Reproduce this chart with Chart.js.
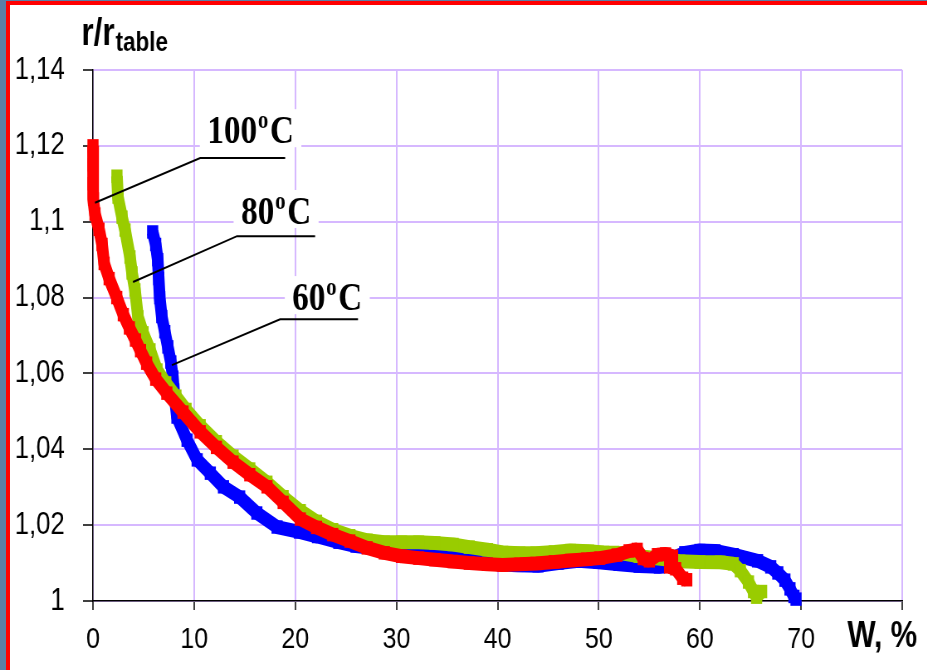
<!DOCTYPE html>
<html>
<head>
<meta charset="utf-8">
<script src="https://cdn.jsdelivr.net/npm/chart.js@4.4.1/dist/chart.umd.min.js"></script>
<style>
  html, body { margin: 0; padding: 0; width: 927px; height: 670px; overflow: hidden; background: #5b7ea6; }
  #frame { position: absolute; left: 6px; top: 1px; width: 940px; height: 700px;
           border-left: 4px solid #ff0000; border-top: 4px solid #ff0000; background: #fff; }
  /* chart is laid out wide and squeezed horizontally */
  #wrap { position: absolute; left: 0; top: 0; width: 1117px; height: 670px;
          transform: scaleX(0.83); transform-origin: 0 0; }
</style>
</head>
<body>
<div id="frame"></div>
<div id="wrap"><canvas id="rChart" width="1117" height="670"></canvas></div>
<script>
// W, % and r/r_table for each temperature
const w100 = [0, 0, 0, 0.05, 0.2, 0.6, 0.9, 1.1, 1.6, 2.35, 3.0, 3.6, 4.2, 4.7, 5.3, 6.2, 7.3, 8.9, 10.6, 12.2, 13.85, 15.5, 17.2, 18.8, 20.5, 22.1, 23.7, 25.4, 27.1, 28.8, 30.5, 32.2, 33.8, 35.6, 37.2, 39.0, 40.5, 42.2, 43.8, 45.6, 47.2, 48.8, 50.1, 51.8, 53.0, 53.8, 54.4, 55.0, 55.8, 56.6, 57.3, 57.0, 57.6, 58.3, 58.7];
const r100 = [1.120, 1.115, 1.110, 1.106, 1.102, 1.098, 1.094, 1.089, 1.085, 1.080, 1.0755, 1.072, 1.0688, 1.066, 1.0627, 1.0585, 1.0548, 1.0498, 1.0446, 1.0405, 1.0366, 1.0333, 1.0301, 1.026, 1.0216, 1.0194, 1.0175, 1.0158, 1.0140, 1.0127, 1.0118, 1.0113, 1.0109, 1.0104, 1.0100, 1.0097, 1.0095, 1.0097, 1.0099, 1.0103, 1.0107, 1.0110, 1.0113, 1.0121, 1.0132, 1.0136, 1.0112, 1.0106, 1.0122, 1.0124, 1.0118, 1.0090, 1.0085, 1.0060, 1.0056];

const w80 = [2.37, 2.47, 2.87, 3.17, 3.66, 3.86, 4.15, 4.45, 4.95, 5.64, 6.33, 7.2, 8.2, 9.2, 10.6, 12.2, 13.85, 15.5, 17.2, 18.8, 20.5, 22.1, 23.7, 25.4, 27.1, 28.8, 30.5, 32.2, 33.8, 35.6, 37.2, 39.0, 40.5, 42.2, 43.8, 45.6, 47.2, 49.0, 50.5, 52.0, 54.0, 56.0, 58.0, 60.0, 62.0, 63.3, 64.0, 64.8, 65.3, 65.6, 66.1];
const r80 = [1.112, 1.1065, 1.1012, 1.0978, 1.0907, 1.0865, 1.082, 1.0749, 1.0707, 1.0662, 1.0609, 1.0575, 1.0540, 1.0505, 1.0462, 1.0420, 1.0382, 1.0348, 1.0313, 1.0275, 1.0238, 1.0210, 1.0188, 1.0172, 1.0160, 1.0155, 1.0155, 1.0155, 1.0153, 1.0149, 1.0142, 1.0135, 1.0128, 1.0126, 1.0126, 1.0129, 1.0133, 1.0131, 1.0128, 1.0127, 1.0118, 1.0112, 1.0105, 1.0103, 1.0102, 1.0098, 1.0080, 1.0050, 1.0025, 1.0010, 1.0025];

const w60 = [5.9, 6.2, 6.4, 6.5, 6.6, 6.8, 7.1, 7.4, 7.7, 7.9, 8.0, 8.3, 9.3, 10.3, 11.6, 12.9, 14.5, 16.2, 18.2, 20.4, 22.2, 24.3, 26.0, 28.0, 30.0, 32.0, 34.0, 35.5, 37.0, 38.5, 40.0, 42.0, 44.0, 46.0, 48.0, 50.0, 52.0, 54.0, 56.0, 57.0, 57.5, 58.5, 60.0, 61.5, 63.3, 65.7, 67.0, 67.7, 68.4, 68.9, 69.3, 69.5];
const r60 = [1.0973, 1.094, 1.090, 1.085, 1.080, 1.075, 1.071, 1.067, 1.063, 1.059, 1.0556, 1.0485, 1.0424, 1.0372, 1.0337, 1.0301, 1.0274, 1.0232, 1.0195, 1.0182, 1.0170, 1.0155, 1.0145, 1.0138, 1.0134, 1.0131, 1.0129, 1.0125, 1.0115, 1.0103, 1.0097, 1.0094, 1.0093, 1.0100, 1.0106, 1.0102, 1.0097, 1.0092, 1.0090, 1.0100, 1.0115, 1.0127, 1.0133, 1.0132, 1.0122, 1.0106, 1.0090, 1.0074, 1.0055, 1.0032, 1.0012, 1.0005];

// first dataset is painted on top
const series = [
  { label: '100', w: w100, r: r100, color: '#ff0000' },
  { label: '80', w: w80, r: r80, color: '#99cc00' },
  { label: '60', w: w60, r: r60, color: '#0000ff' }
];

// callouts: curve point, elbow, end of leader, text corner (data units)
const callouts = [
  { text: '100', from: [0.2, 1.105], elbow: [10.6, 1.1168], to: [19.0, 1.1168], at: [11.3, 1.1207] },
  { text: '80', from: [3.96, 1.0841], elbow: [14.24, 1.0962], to: [21.96, 1.0962], at: [14.64, 1.0994] },
  { text: '60', from: [7.8, 1.0622], elbow: [18.5, 1.0743], to: [26.2, 1.0743], at: [19.7, 1.0767] }
];

const SERIF = '"Liberation Serif", "Times New Roman", serif';
const SANS = '"Liberation Sans", Arial, sans-serif';

function tempWidth(ctx, t) {
  ctx.font = 'bold 40px ' + SERIF;
  let w = ctx.measureText(t).width + ctx.measureText('C').width;
  ctx.font = 'bold 25px ' + SERIF;
  return w + ctx.measureText('o').width + 3;
}

function drawTemp(ctx, t, x, y) {
  ctx.fillStyle = '#000';
  ctx.textBaseline = 'alphabetic';
  ctx.textAlign = 'left';
  ctx.font = 'bold 40px ' + SERIF;
  ctx.fillText(t, x, y);
  let w = ctx.measureText(t).width + 1;
  ctx.font = 'bold 25px ' + SERIF;
  ctx.fillText('o', x + w, y - 15);
  w += ctx.measureText('o').width + 2;
  ctx.font = 'bold 40px ' + SERIF;
  ctx.fillText('C', x + w, y);
}

const calloutPlugin = {
  id: 'callouts',
  beforeDatasetsDraw(chart) {
    const { ctx, scales: { x, y } } = chart;
    ctx.save();
    ctx.fillStyle = '#fff';
    callouts.forEach(c => {
      const px = x.getPixelForValue(c.at[0]);
      const py = y.getPixelForValue(c.at[1]);
      const w = tempWidth(ctx, c.text);
      ctx.fillRect(px - 9, py - 34, w + 18, 38);
    });
    ctx.restore();
  },
  afterDatasetsDraw(chart) {
    const { ctx, scales: { x, y } } = chart;
    ctx.save();
    ctx.strokeStyle = '#000';
    ctx.lineWidth = 2;
    callouts.forEach(c => {
      ctx.beginPath();
      ctx.moveTo(x.getPixelForValue(c.from[0]), y.getPixelForValue(c.from[1]));
      ctx.lineTo(x.getPixelForValue(c.elbow[0]), y.getPixelForValue(c.elbow[1]));
      ctx.lineTo(x.getPixelForValue(c.to[0]), y.getPixelForValue(c.to[1]));
      ctx.stroke();
      drawTemp(ctx, c.text, x.getPixelForValue(c.at[0]), y.getPixelForValue(c.at[1]));
    });
    ctx.restore();
  },
  afterDraw(chart) {
    const { ctx, chartArea } = chart;
    ctx.save();
    ctx.fillStyle = '#000';
    ctx.textAlign = 'left';
    ctx.textBaseline = 'alphabetic';
    // axis titles
    ctx.font = 'bold 38px ' + SANS;
    ctx.fillText('r/r', chartArea.left - 14, chartArea.top - 25);
    const rw = ctx.measureText('r/r').width;
    ctx.font = 'bold 27px ' + SANS;
    ctx.fillText('table', chartArea.left - 13 + rw, chartArea.top - 19);
    ctx.font = 'bold 36px ' + SANS;
    ctx.fillText('W, %', chartArea.right - 66, chartArea.bottom + 46);
    ctx.restore();
  }
};

const gridColor = '#d6b8ff';

new Chart(document.getElementById('rChart'), {
  type: 'scatter',
  data: {
    datasets: series.map(s => ({
      label: s.label,
      data: s.w.map((v, i) => ({ x: v, y: s.r[i] })),
      showLine: true,
      borderColor: s.color,
      backgroundColor: s.color,
      borderWidth: 14,
      borderJoinStyle: 'bevel',
      pointStyle: 'rect',
      pointRadius: 9.5,
      pointBorderWidth: 0,
      pointHoverRadius: 9.5,
      tension: 0,
      clip: false
    }))
  },
  options: {
    responsive: false,
    devicePixelRatio: 1,
    animation: false,
    layout: { padding: { left: 0, right: 30, top: 70, bottom: 0 } },
    plugins: { legend: { display: false }, tooltip: { enabled: false } },
    scales: {
      x: {
        type: 'linear', min: 0, max: 80,
        afterFit: scale => { scale.height = 69; },
        ticks: {
          stepSize: 10, padding: 12, color: '#000', maxRotation: 0,
          font: { family: SANS, size: 30 },
          callback: v => (v === 80 ? '' : v)
        },
        grid: { color: gridColor, lineWidth: 2, tickLength: 9, tickColor: '#000', tickWidth: 1.5 },
        border: { color: '#000', width: 1.5 }
      },
      y: {
        type: 'linear', min: 1, max: 1.14,
        afterFit: scale => { scale.width = 112; },
        ticks: {
          stepSize: 0.02, padding: 22, color: '#000',
          font: { family: SANS, size: 31 },
          callback: v => String(Math.round(v * 100) / 100).replace('.', ',')
        },
        grid: { color: gridColor, lineWidth: 2, tickLength: 12, tickColor: '#000', tickWidth: 1.5 },
        border: { color: '#000', width: 1.5 }
      }
    }
  },
  plugins: [calloutPlugin]
});
</script>
</body>
</html>
